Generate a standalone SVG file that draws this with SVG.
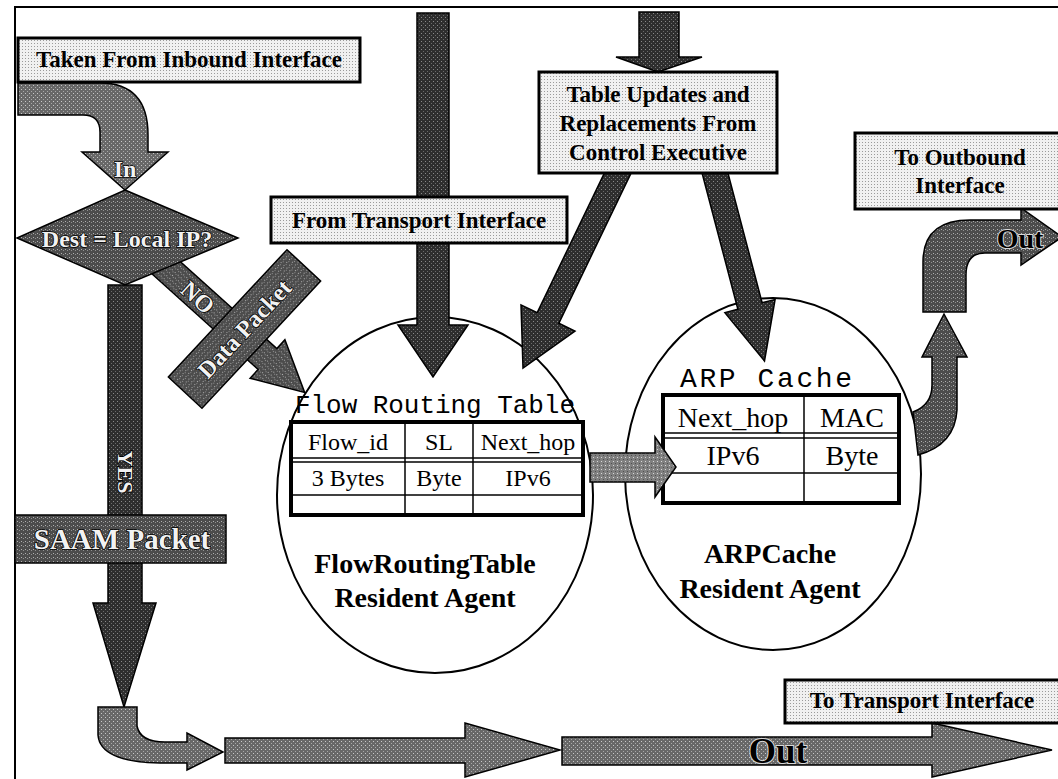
<svg xmlns="http://www.w3.org/2000/svg" width="1058" height="779" viewBox="0 0 1058 779">
<defs>
<pattern id="pd" width="4" height="4" patternUnits="userSpaceOnUse"><rect width="4" height="4" fill="#2e2e2e"/><rect x="1" y="1" width="1" height="1" fill="#8a8a8a"/><rect x="3" y="3" width="1" height="1" fill="#6a6a6a"/></pattern>
<pattern id="pm" width="4" height="4" patternUnits="userSpaceOnUse"><rect width="4" height="4" fill="#4c4c4c"/><rect x="1" y="1" width="1" height="1" fill="#b0b0b0"/><rect x="3" y="2" width="1" height="1" fill="#909090"/></pattern>
<pattern id="pg" width="4" height="4" patternUnits="userSpaceOnUse"><rect width="4" height="4" fill="#686868"/><rect x="1" y="1" width="1" height="1" fill="#c8c8c8"/><rect x="3" y="3" width="1" height="1" fill="#a8a8a8"/></pattern>
<pattern id="pk" width="4" height="4" patternUnits="userSpaceOnUse"><rect width="4" height="4" fill="#808080"/><rect x="1" y="1" width="1" height="1" fill="#d8d8d8"/><rect x="3" y="3" width="1" height="1" fill="#505050"/></pattern>
<pattern id="pl" width="3" height="3" patternUnits="userSpaceOnUse"><rect width="3" height="3" fill="#f0f0f0"/><rect x="1" y="1" width="1" height="1" fill="#9a9a9a"/></pattern>
</defs>
<style>
.frame{fill:none;stroke:#000;stroke-width:2}
.lbl{fill:url(#pl);stroke:#000;stroke-width:3}
.arD{fill:url(#pd);stroke:#000;stroke-width:1.5}
.arM{fill:url(#pm);stroke:#000;stroke-width:1.5}
.arG{fill:url(#pg);stroke:#000;stroke-width:1.5}
.arK{fill:url(#pk);stroke:#000;stroke-width:1.5}
.ell{fill:none;stroke:#000;stroke-width:2}
.bt{font-family:"Liberation Serif",serif;font-weight:bold;font-size:23px;fill:#000;text-anchor:middle}
.big{font-family:"Liberation Serif",serif;font-weight:bold;fill:#000;text-anchor:middle;stroke:#d8d8d8;stroke-width:2;paint-order:stroke}
.inv{font-family:"Liberation Serif",serif;font-weight:bold;fill:#f2f2f2;stroke:#000;stroke-width:1.6;paint-order:stroke;text-anchor:middle}
.mono{font-family:"Liberation Mono",monospace;fill:#000}
.cell{font-family:"Liberation Serif",serif;font-size:24px;fill:#000;text-anchor:middle}
.cell2{font-family:"Liberation Serif",serif;font-size:28px;fill:#000;text-anchor:middle}
.agent{font-family:"Liberation Serif",serif;font-weight:bold;font-size:28px;fill:#000;text-anchor:middle}
.tb{fill:#fff;stroke:#000;stroke-width:4}
.tl{stroke:#000;stroke-width:1.5}
</style>
<rect class="frame" x="15" y="7" width="1060" height="790"/>

<g id="flow-agent">
<ellipse class="ell" cx="435" cy="495" rx="158" ry="178"/>
<text class="mono" x="295" y="413" font-size="26" textLength="280">Flow Routing Table</text>
<rect class="tb" x="291" y="422" width="292" height="93"/>
<line class="tl" x1="405" y1="422" x2="405" y2="515"/>
<line class="tl" x1="473" y1="422" x2="473" y2="515"/>
<line class="tl" x1="291" y1="458" x2="583" y2="458"/>
<line class="tl" x1="291" y1="462" x2="583" y2="462"/>
<line class="tl" x1="291" y1="495" x2="583" y2="495"/>
<text class="cell" x="348" y="450">Flow_id</text>
<text class="cell" x="439" y="450">SL</text>
<text class="cell" x="528" y="450">Next_hop</text>
<text class="cell" x="348" y="486">3 Bytes</text>
<text class="cell" x="439" y="486">Byte</text>
<text class="cell" x="528" y="486">IPv6</text>
<text class="agent" x="425" y="573">FlowRoutingTable</text>
<text class="agent" x="425" y="607">Resident Agent</text>
</g>

<g id="arp-agent">
<ellipse class="ell" cx="773" cy="474" rx="148" ry="176"/>
<text class="mono" x="680" y="387" font-size="28" textLength="172">ARP Cache</text>
<rect class="tb" x="663" y="395" width="236" height="108"/>
<line class="tl" x1="804" y1="395" x2="804" y2="503"/>
<line class="tl" x1="663" y1="433" x2="899" y2="433"/>
<line class="tl" x1="663" y1="438" x2="899" y2="438"/>
<line class="tl" x1="663" y1="473" x2="899" y2="473"/>
<text class="cell2" x="733" y="427">Next_hop</text>
<text class="cell2" x="852" y="427">MAC</text>
<text class="cell2" x="733" y="465">IPv6</text>
<text class="cell2" x="852" y="465">Byte</text>
<text class="agent" x="770" y="563">ARPCache</text>
<text class="agent" x="770" y="598">Resident Agent</text>
</g>

<g id="connectors">
<path class="arG" d="M18,83 L100,83 Q148,83 148,135 L148,152 L168,152 L125,190 L82,152 L100,152 L100,132 Q100,115 83,115 L18,115 Z"/>
<g transform="translate(267.5,359) rotate(42)">
<path class="arM" d="M-155,-14 L0,-14 L0,-26 L50,0 L0,26 L0,14 L-155,14 Z"/>
<text class="inv" x="-93" y="9" font-size="24">NO</text>
</g>
<polygon class="arD" points="108,285 142,285 142,603 156,603 124,707 93,603 108,603"/>
<text class="inv" transform="translate(118,472) rotate(90)" font-size="22">YES</text>
<path class="arG" d="M98,707 L137,707 L137,726 Q140,742 165,742 L187,742 L187,733 L223,752 L187,770 L187,763 L160,763 Q100,762 98,735 Z"/>
<polygon class="arG" points="225,738 465,738 465,723 560,750 465,777 465,763 225,763"/>
<polygon class="arG" points="562,737 932,737 932,723 1052,750 932,777 932,765 562,765"/>
<text class="big" x="778" y="763" font-size="35">Out</text>
<polygon class="arD" points="417,13 449,13 449,325 468,325 433,377 398,325 417,325"/>
<polygon class="arD" points="639,12 679,12 679,57 702,57 658,72 616,57 639,57"/>
<polygon class="arD" points="614.2,152.7 537.2,312.7 521,304.9 523,368 575,331.1 558.8,323.3 635.8,163.3"/>
<polygon class="arD" points="699.1,161.7 737.9,309.2 724.9,312.6 764.5,361 775.1,299.4 762.1,302.8 723.3,155.3"/>
<polygon class="arK" points="590,453 655,453 655,437 676,467 655,497 655,482 590,482"/>
<path class="arM" d="M913,412 Q932,405 932,385 L932,357 L922,357 L944,314 L967,357 L957,357 L957,410 Q955,445 918,455 Z"/>
<path class="arM" d="M923,312 L923,262 Q923,220 970,220 L1021,220 L1021,208 L1062,237 L1021,265 L1021,253 L985,253 Q966,253 966,275 L966,312 Z"/>
<text class="big" x="1020" y="248" font-size="28">Out</text>
</g>

<g id="inbound">
<rect class="lbl" x="18" y="38" width="342" height="44"/>
<text class="bt" x="189" y="67">Taken From Inbound Interface</text>
</g>

<g id="decision">
<polygon class="arM" points="125,190 238,238 125,285 17,238"/>
<text class="inv" x="127" y="247" font-size="24">Dest = Local IP?</text>
<text class="inv" x="125" y="177" font-size="24">In</text>
</g>

<g id="data-packet">
<g transform="translate(244.5,329) rotate(-47)">
<rect class="arM" x="-87" y="-23" width="174" height="46"/>
<text class="inv" x="0" y="8" font-size="24">Data Packet</text>
</g>
</g>

<g id="saam-packet">
<rect class="arM" x="15" y="515" width="211" height="48"/>
<text class="inv" x="122" y="549" font-size="29">SAAM Packet</text>
</g>

<g id="from-transport">
<rect class="lbl" x="271" y="197" width="296" height="46"/>
<text class="bt" x="419" y="228">From Transport Interface</text>
</g>

<g id="control-exec">
<rect class="lbl" x="539" y="72" width="238" height="101"/>
<text class="bt" x="658" y="102">Table Updates and</text>
<text class="bt" x="658" y="131">Replacements From</text>
<text class="bt" x="658" y="160">Control Executive</text>
</g>

<g id="to-outbound">
<rect class="lbl" x="855" y="133" width="210" height="76"/>
<text class="bt" x="960" y="165">To Outbound</text>
<text class="bt" x="960" y="193">Interface</text>
</g>

<g id="to-transport">
<rect class="lbl" x="785" y="680" width="280" height="43"/>
<text class="bt" x="922" y="708">To Transport Interface</text>
</g>
</svg>
